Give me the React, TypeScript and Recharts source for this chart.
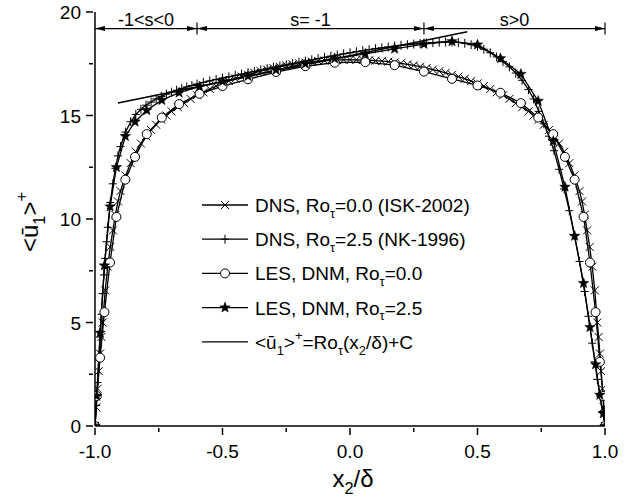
import React from 'react';
import { LineChart, Line, XAxis, YAxis, ReferenceLine, Legend } from 'recharts';

// DNS, Ro_tau = 0.0 (ISK-2002)
const ISK_X = [
  -1.0, -0.995, -0.99, -0.985, -0.98, -0.975, -0.97, -0.96, -0.95, -0.94, -0.93, -0.92, -0.91, -0.9,
  -0.88, -0.86, -0.84, -0.82, -0.8, -0.78, -0.76, -0.74, -0.72, -0.7, -0.675, -0.65, -0.625, -0.6,
  -0.575, -0.55, -0.525, -0.5, -0.475, -0.45, -0.425, -0.4, -0.375, -0.35, -0.325, -0.3, -0.275,
  -0.25, -0.225, -0.2, -0.175, -0.15, -0.125, -0.1, -0.075, -0.05, -0.025, 0.0,
  0.025, 0.05, 0.075, 0.1, 0.125, 0.15, 0.175, 0.2, 0.225, 0.25, 0.275, 0.3, 0.325, 0.35, 0.375,
  0.4, 0.425, 0.45, 0.475, 0.5, 0.525, 0.55, 0.575, 0.6, 0.625, 0.65, 0.675, 0.7, 0.72, 0.74, 0.76,
  0.78, 0.8, 0.82, 0.84, 0.86, 0.88, 0.9, 0.91, 0.92, 0.93, 0.94, 0.95, 0.96, 0.97, 0.975, 0.98,
  0.985, 0.99, 0.995, 1.0,
];
const ISK_U = [
  0, 0.9, 1.8, 2.65, 3.5, 4.3, 5.0, 6.55, 7.7, 8.65, 9.45, 10.2, 10.85, 11.35,
  12.1, 12.7, 13.25, 13.65, 14.0, 14.3, 14.55, 14.8, 15.0, 15.2, 15.4, 15.6, 15.8, 15.98,
  16.12, 16.28, 16.42, 16.55, 16.66, 16.78, 16.88, 16.97, 17.06, 17.14, 17.22, 17.29, 17.36,
  17.42, 17.47, 17.52, 17.56, 17.6, 17.63, 17.65, 17.67, 17.68, 17.69, 17.7,
  17.69, 17.68, 17.67, 17.65, 17.63, 17.6, 17.56, 17.52, 17.47, 17.42, 17.36, 17.29, 17.22, 17.14, 17.06,
  16.97, 16.88, 16.78, 16.66, 16.55, 16.42, 16.28, 16.12, 15.98, 15.8, 15.6, 15.4, 15.2, 15.0, 14.8, 14.55,
  14.3, 14.0, 13.65, 13.25, 12.7, 12.1, 11.35, 10.85, 10.2, 9.45, 8.65, 7.7, 6.55, 5.0, 4.3, 3.5,
  2.65, 1.8, 0.9, 0,
];

// DNS, Ro_tau = 2.5 (NK-1996)
const NK_X = [
  -1.0, -0.995, -0.99, -0.985, -0.98, -0.975, -0.97, -0.965, -0.96, -0.955, -0.95, -0.94, -0.93,
  -0.92, -0.91, -0.9, -0.88, -0.86, -0.84, -0.82, -0.8, -0.78, -0.76, -0.74, -0.72, -0.7, -0.68,
  -0.66, -0.64, -0.62, -0.6, -0.575, -0.55, -0.525, -0.5, -0.475, -0.45, -0.425, -0.4, -0.375,
  -0.35, -0.325, -0.3, -0.275, -0.25, -0.225, -0.2, -0.175, -0.15, -0.125, -0.1, -0.075, -0.05,
  -0.025, 0.0, 0.025, 0.05, 0.075, 0.1, 0.125, 0.15, 0.175, 0.2, 0.225, 0.25, 0.275, 0.3, 0.325,
  0.35, 0.375, 0.4, 0.425, 0.45, 0.475, 0.5, 0.525, 0.55, 0.575, 0.6, 0.625, 0.65, 0.675, 0.7,
  0.72, 0.74, 0.76, 0.78, 0.8, 0.82, 0.84, 0.86, 0.88, 0.9, 0.92, 0.935, 0.95, 0.96, 0.97, 0.98,
  0.99, 1.0,
];
const NK_U = [
  0, 1.0, 2.1, 3.2, 4.3, 5.4, 6.4, 7.3, 8.1, 8.9, 9.6, 10.8, 11.7,
  12.45, 13.05, 13.5, 14.2, 14.7, 15.05, 15.3, 15.5, 15.65, 15.8, 15.92, 16.03, 16.13, 16.22,
  16.3, 16.38, 16.45, 16.52, 16.6, 16.67, 16.74, 16.81, 16.87, 16.94, 17.0, 17.07, 17.13,
  17.2, 17.26, 17.33, 17.39, 17.45, 17.51, 17.57, 17.63, 17.69, 17.75, 17.81, 17.87, 17.92,
  17.98, 18.03, 18.08, 18.13, 18.18, 18.23, 18.27, 18.31, 18.35, 18.39, 18.42, 18.45, 18.48, 18.5, 18.52,
  18.54, 18.55, 18.55, 18.53, 18.49, 18.42, 18.35, 18.2, 18.03, 17.83, 17.6, 17.35, 17.05, 16.7, 16.25,
  15.8, 15.2, 14.6, 14.0, 13.3, 12.4, 11.45, 10.4, 9.2, 7.95, 6.5, 5.3, 4.0, 3.1, 2.25, 1.45,
  0.7, 0,
];

// LES, DNM (same grid for both rotation numbers)
const LES_X = [
  -1.0, -0.993, -0.98, -0.963, -0.941, -0.916, -0.881, -0.843, -0.797, -0.738, -0.67, -0.59, -0.5,
  -0.4, -0.29, -0.175, -0.06, 0.06, 0.175, 0.29, 0.4, 0.5, 0.59, 0.67, 0.738, 0.797, 0.843, 0.881,
  0.916, 0.941, 0.963, 0.98, 0.993, 1.0,
];
const LES0_U = [
  0, 1.45, 3.3, 5.5, 7.9, 10.1, 11.9, 13.0, 14.1, 14.9, 15.55, 16.05, 16.42,
  16.75, 17.1, 17.38, 17.55, 17.58, 17.43, 17.12, 16.77, 16.45, 16.1, 15.6, 14.9, 14.1, 13.0, 11.9,
  10.1, 7.9, 5.5, 3.1, 1.45, 0,
];
const LES25_U = [
  0, 1.45, 4.5, 7.75, 10.6, 12.5, 14.0, 14.7, 15.25, 15.74, 16.1, 16.4, 16.65,
  16.9, 17.2, 17.5, 17.75, 17.98, 18.22, 18.45, 18.58, 18.42, 17.76, 17.0, 15.7, 13.76, 11.55, 9.18,
  6.9, 4.77, 2.97, 1.5, 0.6, 0,
];

// <u1>+ = Ro_tau (x2/delta) + C, end points
const FIT_X = [-0.91, 0.46];
const FIT_U = [15.6, 19.05];

// regions marked along the top
const REGION_BOUNDS = [-1.0, -0.6, 0.29, 1.0];
const REGION_LABELS = ['-1<s<0', 's= -1', 's>0'];
const REGION_Y = 19.2;

const X_TICKS = [-1, -0.75, -0.5, -0.25, 0, 0.25, 0.5, 0.75, 1];
const X_MAJOR = [-1, -0.5, 0, 0.5, 1];
const Y_TICKS = [0, 2.5, 5, 7.5, 10, 12.5, 15, 17.5, 20];

const toRows = (xs: number[], us: number[]) => xs.map((x, i) => ({ x, u: us[i] }));
const iskData = toRows(ISK_X, ISK_U);
const nkData = toRows(NK_X, NK_U);
const les0Data = toRows(LES_X, LES0_U);
const les25Data = toRows(LES_X, LES25_U);
const fitData = toRows(FIT_X, FIT_U);

const INK = '#000';

const starPath = (cx: number, cy: number, R: number, r: number) => {
  let d = '';
  for (let k = 0; k < 10; k++) {
    const a = -Math.PI / 2 + (k * Math.PI) / 5;
    const rad = k % 2 ? r : R;
    d += (k ? 'L' : 'M') + (cx + rad * Math.cos(a)).toFixed(2) + ',' + (cy + rad * Math.sin(a)).toFixed(2);
  }
  return d + 'Z';
};

const marker = (kind: string, cx: number, cy: number, key?: any) => {
  if (kind === 'cross') {
    const s = 4;
    return (
      <path key={key} d={`M${cx - s},${cy - s}L${cx + s},${cy + s}M${cx - s},${cy + s}L${cx + s},${cy - s}`}
        stroke={INK} strokeWidth={1} fill="none" />
    );
  }
  if (kind === 'plus') {
    return (
      <path key={key} d={`M${cx},${cy - 4.5}L${cx},${cy + 4.5}M${cx - 4},${cy}L${cx + 4},${cy}`}
        stroke={INK} strokeWidth={1} fill="none" />
    );
  }
  if (kind === 'circle') {
    return <circle key={key} cx={cx} cy={cy} r={4.5} stroke={INK} strokeWidth={1} fill="#fff" />;
  }
  if (kind === 'star') {
    return <path key={key} d={starPath(cx, cy, 5.5, 2.3)} fill={INK} stroke={INK} strokeWidth={0.5} />;
  }
  return <g key={key} />;
};

const dotOf = (kind: string) => (p: any) => {
  if (p.cx == null || p.cy == null) return <g key={p.index} />;
  return marker(kind, p.cx, p.cy, p.index);
};

// text with sub/superscripts
type Part = [string, 'n' | 'sub' | 'sup'];
const RichText = ({ x, y, parts, size, anchor = 'start' }: { x: number; y: number; parts: Part[]; size: number; anchor?: string }) => {
  let cur = 0;
  return (
    <text x={x} y={y} fontSize={size} textAnchor={anchor as any} fill={INK}>
      {parts.map(([t, k], i) => {
        const target = k === 'sub' ? size * 0.3 : k === 'sup' ? -size * 0.45 : 0;
        const dy = target - cur;
        cur = target;
        return (
          <tspan key={i} dy={dy} fontSize={k === 'n' ? size : size * 0.68}>
            {t}
          </tspan>
        );
      })}
    </text>
  );
};

const renderXTick = (p: any) => {
  const { x, y, payload } = p;
  const v = payload.value as number;
  const major = X_MAJOR.includes(v);
  return (
    <g>
      <line x1={x} y1={y} x2={x} y2={y + (major ? 7 : 4)} stroke={INK} strokeWidth={1.5} />
      {major && (
        <text x={x} y={y + 30} textAnchor="middle" fontSize={19} fill={INK}>
          {v.toFixed(1)}
        </text>
      )}
    </g>
  );
};

const renderYTick = (p: any) => {
  const { x, y, payload } = p;
  const v = payload.value as number;
  const major = v % 5 === 0;
  return (
    <g>
      <line x1={x} y1={y} x2={x - (major ? 7 : 4)} y2={y} stroke={INK} strokeWidth={1.5} />
      {major && (
        <text x={x - 12} y={y + 7} textAnchor="end" fontSize={19} fill={INK}>
          {v}
        </text>
      )}
    </g>
  );
};

const XTitle = (p: any) => {
  const vb = p.viewBox;
  return (
    <RichText x={vb.x + vb.width / 2 + 3} y={vb.y + 61} size={24} anchor="middle"
      parts={[['x', 'n'], ['2', 'sub'], ['/δ', 'n']]} />
  );
};

const YTitle = (p: any) => {
  const vb = p.viewBox;
  const cx = vb.x + 38;
  const cy = vb.y + vb.height / 2 + 3;
  return (
    <g transform={`rotate(-90, ${cx}, ${cy})`}>
      <RichText x={cx} y={cy} size={24} anchor="middle"
        parts={[['<ū', 'n'], ['1', 'sub'], ['>', 'n'], ['+', 'sup']]} />
    </g>
  );
};

const regionShape = (label: string) => (p: any) => {
  const { x1, y1, x2 } = p;
  const h = 10;
  const w = 2.5;
  return (
    <g>
      <line x1={x1} y1={y1} x2={x2} y2={y1} stroke={INK} strokeWidth={1.2} />
      <polygon points={`${x1},${y1} ${x1 + h},${y1 - w} ${x1 + h},${y1 + w}`} fill={INK} />
      <polygon points={`${x2},${y1} ${x2 - h},${y1 - w} ${x2 - h},${y1 + w}`} fill={INK} />
      <line x1={x2} y1={y1 - 6} x2={x2} y2={y1 + 6} stroke={INK} strokeWidth={1.2} />
      <text x={(x1 + x2) / 2} y={y1 - 3} textAnchor="middle" fontSize={18} fill={INK}>
        {label}
      </text>
    </g>
  );
};

const LEGEND_ROWS: { kind: string; parts: Part[] }[] = [
  { kind: 'cross', parts: [['DNS, Ro', 'n'], ['τ', 'sub'], ['=0.0 (ISK-2002)', 'n']] },
  { kind: 'plus', parts: [['DNS, Ro', 'n'], ['τ', 'sub'], ['=2.5 (NK-1996)', 'n']] },
  { kind: 'circle', parts: [['LES, DNM, Ro', 'n'], ['τ', 'sub'], ['=0.0', 'n']] },
  { kind: 'star', parts: [['LES, DNM, Ro', 'n'], ['τ', 'sub'], ['=2.5', 'n']] },
  {
    kind: 'none',
    parts: [['<ū', 'n'], ['1', 'sub'], ['>', 'n'], ['+', 'sup'], ['=Ro', 'n'], ['τ', 'sub'], ['(x', 'n'], ['2', 'sub'], ['/δ)+C', 'n']],
  },
];

const LegendBox = () => (
  <svg width={300} height={175} style={{ display: 'block', fontFamily: 'Arial, "Liberation Sans", sans-serif' }}>
    {LEGEND_ROWS.map((row, i) => {
      const cy = 20 + i * 34.2;
      return (
        <g key={i}>
          <line x1={7} y1={cy} x2={53} y2={cy} stroke={INK} strokeWidth={1.3} />
          {marker(row.kind, 30, cy)}
          <RichText x={60} y={cy + 7} size={19} parts={row.parts} />
        </g>
      );
    })}
  </svg>
);

export default function App() {
  const axisStyle = { stroke: INK, strokeWidth: 1.5 };
  return (
    <div
      style={{
        position: 'absolute',
        left: 0,
        top: 0,
        width: 636,
        height: 501,
        background: '#fff',
        fontFamily: 'Arial, "Liberation Sans", sans-serif',
      }}
    >
      <LineChart width={636} height={501} margin={{ top: 12, right: 31, bottom: 0, left: 0 }}>
        <XAxis type="number" dataKey="x" domain={[-1, 1]} ticks={X_TICKS} interval={0}
          tickSize={0} tickLine={false} tick={renderXTick} axisLine={axisStyle}
          height={75} allowDataOverflow label={<XTitle />} />
        <YAxis type="number" domain={[0, 20]} ticks={Y_TICKS} interval={0}
          tickSize={0} tickLine={false} tick={renderYTick} axisLine={axisStyle}
          width={95} allowDataOverflow label={<YTitle />} />

        {REGION_LABELS.map((label, i) => (
          <ReferenceLine key={label} ifOverflow="visible"
            segment={[{ x: REGION_BOUNDS[i], y: REGION_Y }, { x: REGION_BOUNDS[i + 1], y: REGION_Y }]}
            shape={regionShape(label)} />
        ))}

        <Line data={iskData} dataKey="u" stroke={INK} strokeWidth={1.3} dot={dotOf('cross')}
          activeDot={false} isAnimationActive={false} />
        <Line data={nkData} dataKey="u" stroke={INK} strokeWidth={1.3} dot={dotOf('plus')}
          activeDot={false} isAnimationActive={false} />
        <Line data={les0Data} dataKey="u" stroke={INK} strokeWidth={1.3} dot={dotOf('circle')}
          activeDot={false} isAnimationActive={false} />
        <Line data={les25Data} dataKey="u" stroke={INK} strokeWidth={1.3} dot={dotOf('star')}
          activeDot={false} isAnimationActive={false} />
        <Line data={fitData} dataKey="u" stroke={INK} strokeWidth={1.6} dot={false}
          activeDot={false} isAnimationActive={false} />

        <Legend layout="vertical" align="center" verticalAlign="middle" content={<LegendBox />}
          wrapperStyle={{ position: 'absolute', left: 195, top: 185, width: 300, height: 175 }} />
      </LineChart>
    </div>
  );
}
